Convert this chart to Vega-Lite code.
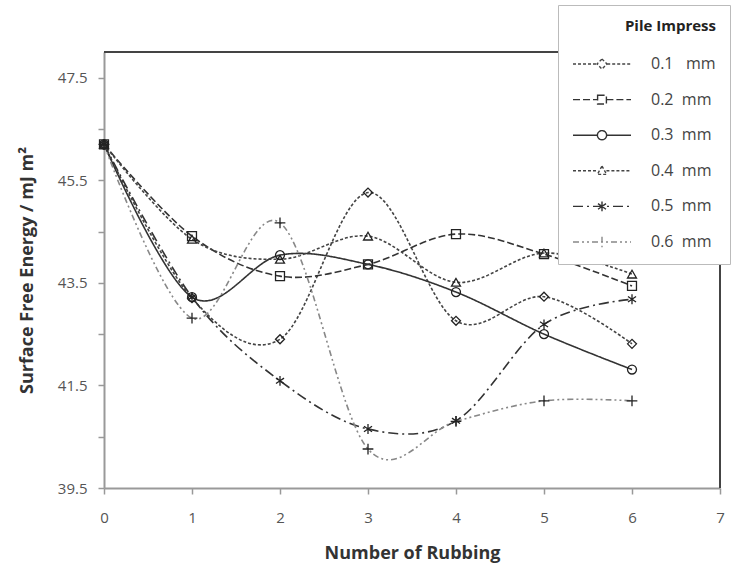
{
  "$schema": "https://vega.github.io/schema/vega-lite/v6.json",
  "width": 616,
  "height": 436,
  "autosize": {"type": "none"},
  "padding": {"left": 104, "top": 52, "right": 12, "bottom": 76},
  "background": "white",
  "config": {"view": {"stroke": null}, "font": "Open Sans"},
  "data": {
    "values": [
      {"x": 0, "y": 46.2, "s": "0.1 mm"}, {"x": 1, "y": 43.2, "s": "0.1 mm"}, {"x": 2, "y": 42.4, "s": "0.1 mm"}, {"x": 3, "y": 45.26, "s": "0.1 mm"}, {"x": 4, "y": 42.76, "s": "0.1 mm"}, {"x": 5, "y": 43.23, "s": "0.1 mm"}, {"x": 6, "y": 42.31, "s": "0.1 mm"},
      {"x": 0, "y": 46.2, "s": "0.2 mm"}, {"x": 1, "y": 44.41, "s": "0.2 mm"}, {"x": 2, "y": 43.63, "s": "0.2 mm"}, {"x": 3, "y": 43.86, "s": "0.2 mm"}, {"x": 4, "y": 44.45, "s": "0.2 mm"}, {"x": 5, "y": 44.06, "s": "0.2 mm"}, {"x": 6, "y": 43.44, "s": "0.2 mm"},
      {"x": 0, "y": 46.2, "s": "0.3 mm"}, {"x": 1, "y": 43.22, "s": "0.3 mm"}, {"x": 2, "y": 44.04, "s": "0.3 mm"}, {"x": 3, "y": 43.86, "s": "0.3 mm"}, {"x": 4, "y": 43.32, "s": "0.3 mm"}, {"x": 5, "y": 42.5, "s": "0.3 mm"}, {"x": 6, "y": 41.81, "s": "0.3 mm"},
      {"x": 0, "y": 46.2, "s": "0.4 mm"}, {"x": 1, "y": 44.35, "s": "0.4 mm"}, {"x": 2, "y": 43.96, "s": "0.4 mm"}, {"x": 3, "y": 44.41, "s": "0.4 mm"}, {"x": 4, "y": 43.51, "s": "0.4 mm"}, {"x": 5, "y": 44.08, "s": "0.4 mm"}, {"x": 6, "y": 43.67, "s": "0.4 mm"},
      {"x": 0, "y": 46.2, "s": "0.5 mm"}, {"x": 1, "y": 43.22, "s": "0.5 mm"}, {"x": 2, "y": 41.59, "s": "0.5 mm"}, {"x": 3, "y": 40.65, "s": "0.5 mm"}, {"x": 4, "y": 40.81, "s": "0.5 mm"}, {"x": 5, "y": 42.69, "s": "0.5 mm"}, {"x": 6, "y": 43.18, "s": "0.5 mm"},
      {"x": 0, "y": 46.2, "s": "0.6 mm"}, {"x": 1, "y": 42.81, "s": "0.6 mm"}, {"x": 2, "y": 44.67, "s": "0.6 mm"}, {"x": 3, "y": 40.26, "s": "0.6 mm"}, {"x": 4, "y": 40.8, "s": "0.6 mm"}, {"x": 5, "y": 41.2, "s": "0.6 mm"}, {"x": 6, "y": 41.2, "s": "0.6 mm"}
    ]
  },
  "layer": [
    {
      "mark": {"type": "line", "interpolate": "cardinal", "strokeWidth": 1.6},
      "encoding": {
        "x": {
          "field": "x", "type": "quantitative",
          "scale": {"domain": [0, 7], "nice": false, "zero": false},
          "axis": {
            "values": [0, 1, 2, 3, 4, 5, 6, 7], "format": "d", "grid": false,
            "title": "Number of Rubbing", "titleFontSize": 18, "titleFontWeight": "bold", "titleColor": "#333", "titlePadding": 19,
            "domainColor": "#999", "domainWidth": 2, "tickColor": "#999", "tickWidth": 1.5, "tickSize": 6,
            "labelFontSize": 15, "labelColor": "#555", "labelPadding": 16, "labelFlush": false
          }
        },
        "y": {
          "field": "y", "type": "quantitative",
          "scale": {"domain": [39.5, 48], "nice": false, "zero": false},
          "axis": {
            "values": [39.5, 40, 40.5, 41, 41.5, 42, 42.5, 43, 43.5, 44, 44.5, 45, 45.5, 46, 46.5, 47, 47.5, 48],
            "labelExpr": "(datum.value - 39.5) % 2 == 0 ? format(datum.value, '.1f') : ''",
            "grid": false,
            "title": "Surface Free Energy / mJ m²", "titleFontSize": 18, "titleFontWeight": "bold", "titleColor": "#333", "titlePadding": 21,
            "domainColor": "#999", "domainWidth": 2, "tickColor": "#999", "tickWidth": 1.5, "tickSize": 6,
            "labelFontSize": 15, "labelColor": "#555", "labelPadding": 11
          }
        },
        "strokeDash": {
          "field": "s", "type": "nominal",
          "scale": {"range": [[3, 2], [7, 3], [1, 0], [3, 2], [10, 4, 2, 4], [6, 3, 2, 3, 2, 3]]},
          "legend": {
            "orient": "none", "legendX": 454, "legendY": -47, "zindex": 1,
            "title": "Pile Impress", "titleFontSize": 15, "titleFontWeight": "bold", "titleColor": "#222", "titlePadding": 22, "titleAnchor": "end",
            "padding": 14, "fillColor": "white", "strokeColor": "#bbbbbb",
            "symbolSize": 64, "symbolStrokeWidth": 1.4,
            "symbolOffset": 22, "labelOffset": 41, "rowPadding": 19.6,
            "labelFontSize": 16, "labelColor": "#444",
            "labelExpr": "datum.label == '0.1 mm' ? '0.1\u00a0\u00a0\u00a0mm' : replace(datum.label, ' ', '\u00a0\u00a0')",
            "encode": {
              "symbols": {
                "update": {
                  "shape": {"signal": "datum.value == '0.1 mm' ? 'M-7.25,0H-1.3M1.3,0H7.25M0,-1.25L1.25,0L0,1.25L-1.25,0Z' : datum.value == '0.2 mm' ? 'M-7.25,0H-1.1M1.1,0H7.25M-1.1,-1.1H1.1V1.1H-1.1Z' : datum.value == '0.3 mm' ? 'M-7.25,0H-1.15M1.15,0H7.25M1.15,0A1.15,1.15,0,1,1,-1.15,0A1.15,1.15,0,1,1,1.15,0' : datum.value == '0.4 mm' ? 'M-7.25,0H-1.1M1.1,0H7.25M0,-1.2L1.15,0.9H-1.15Z' : datum.value == '0.5 mm' ? 'M-7.25,0H7.25M-1,-0.7L1,0.7M-1,0.7L1,-0.7M0,-1.2L0,1.2' : 'M-7.25,0H7.25M0,-1.3V1.3'"}
                }
              }
            }
          }
        },
        "stroke": {
          "field": "s", "type": "nominal",
          "scale": {"range": ["#444444", "#333333", "#333333", "#444444", "#333333", "#888888"]},
          "legend": {
            "orient": "none", "legendX": 454, "legendY": -47, "zindex": 1,
            "title": "Pile Impress", "titleFontSize": 15, "titleFontWeight": "bold", "titleColor": "#222", "titlePadding": 22, "titleAnchor": "end",
            "padding": 14, "fillColor": "white", "strokeColor": "#bbbbbb",
            "symbolSize": 64, "symbolStrokeWidth": 1.4,
            "symbolOffset": 22, "labelOffset": 41, "rowPadding": 19.6,
            "labelFontSize": 16, "labelColor": "#444",
            "labelExpr": "datum.label == '0.1 mm' ? '0.1\u00a0\u00a0\u00a0mm' : replace(datum.label, ' ', '\u00a0\u00a0')",
            "encode": {
              "symbols": {
                "update": {
                  "shape": {"signal": "datum.value == '0.1 mm' ? 'M-7.25,0H-1.3M1.3,0H7.25M0,-1.25L1.25,0L0,1.25L-1.25,0Z' : datum.value == '0.2 mm' ? 'M-7.25,0H-1.1M1.1,0H7.25M-1.1,-1.1H1.1V1.1H-1.1Z' : datum.value == '0.3 mm' ? 'M-7.25,0H-1.15M1.15,0H7.25M1.15,0A1.15,1.15,0,1,1,-1.15,0A1.15,1.15,0,1,1,1.15,0' : datum.value == '0.4 mm' ? 'M-7.25,0H-1.1M1.1,0H7.25M0,-1.2L1.15,0.9H-1.15Z' : datum.value == '0.5 mm' ? 'M-7.25,0H7.25M-1,-0.7L1,0.7M-1,0.7L1,-0.7M0,-1.2L0,1.2' : 'M-7.25,0H7.25M0,-1.3V1.3'"}
                }
              }
            }
          }
        }
      }
    },
    {
      "mark": {"type": "point", "filled": false, "size": 80, "strokeWidth": 1.3, "color": "#222", "opacity": 1},
      "encoding": {
        "x": {"field": "x", "type": "quantitative"},
        "y": {"field": "y", "type": "quantitative"},
        "shape": {
          "field": "s", "type": "nominal",
          "scale": {
            "domain": ["0.1 mm", "0.2 mm", "0.3 mm", "0.4 mm", "0.5 mm", "0.6 mm"],
            "range": ["diamond", "square", "circle", "triangle-up", "M-0.9,-0.6L0.9,0.6M-0.9,0.6L0.9,-0.6M0,-1.1L0,1.1", "M-1.2,0L1.2,0M0,-1.2L0,1.2"]
          },
          "legend": null
        }
      }
    },
    {
      "mark": {"type": "rule", "color": "#444", "strokeWidth": 2},
      "encoding": {"x": {"datum": 7, "type": "quantitative"}}
    },
    {
      "mark": {"type": "rule", "color": "#444", "strokeWidth": 2},
      "encoding": {"y": {"datum": 48, "type": "quantitative"}}
    }
  ]
}
